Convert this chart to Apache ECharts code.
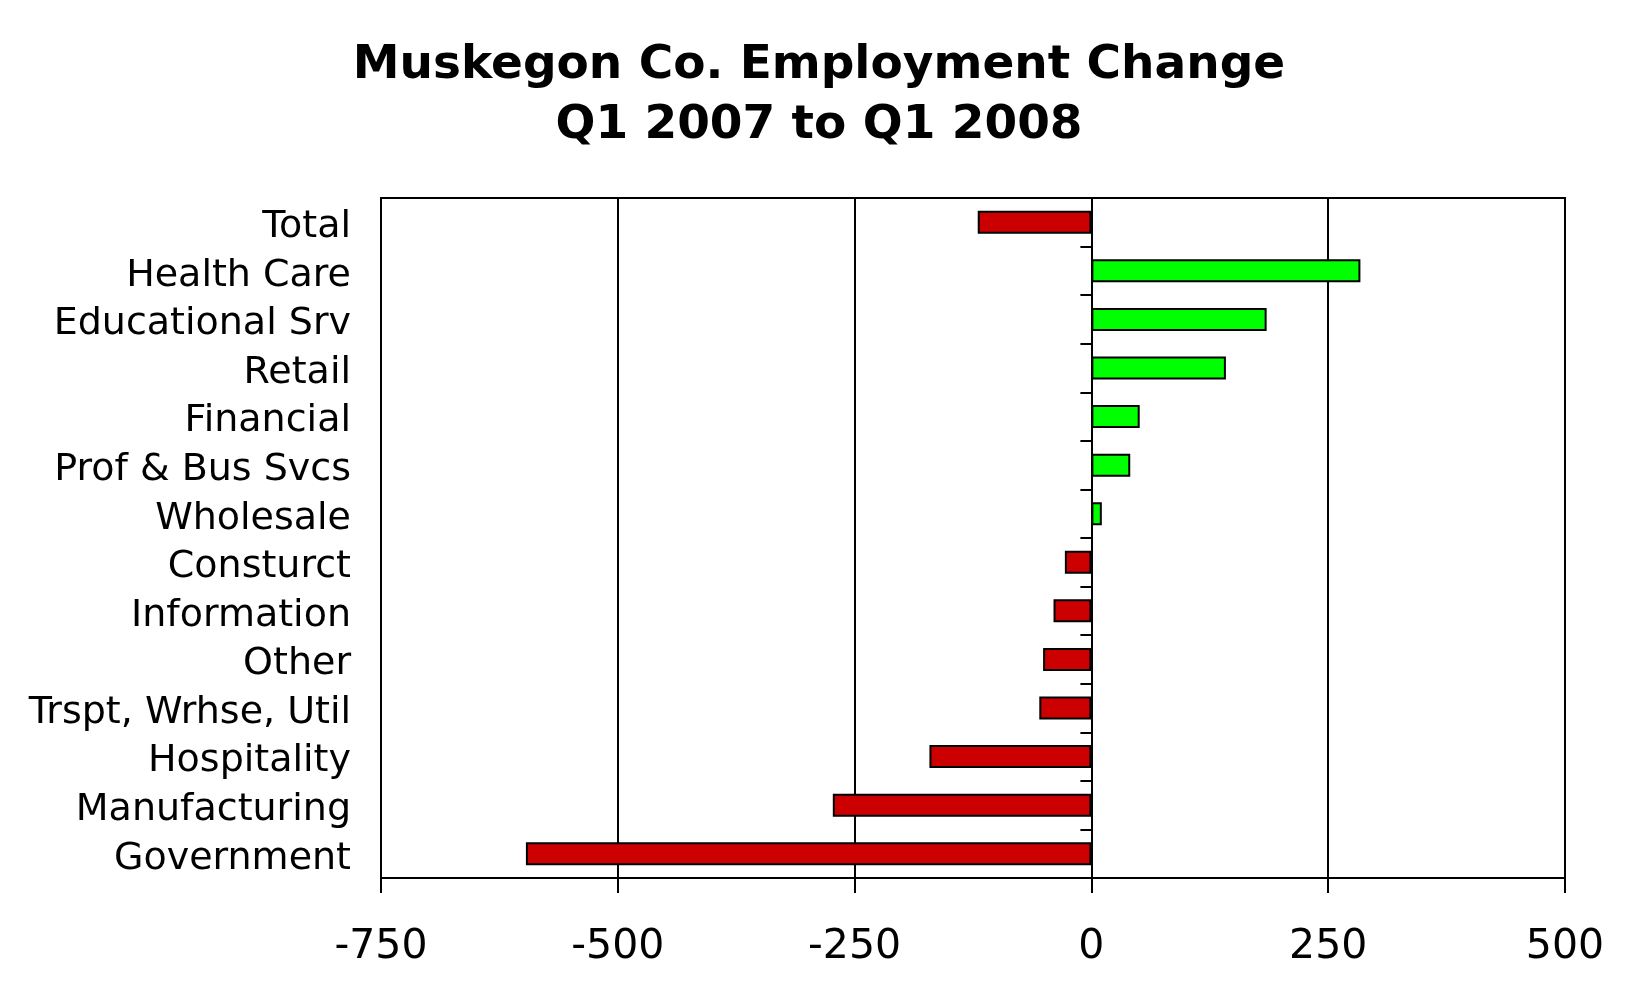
<!DOCTYPE html>
<html>
<head>
<meta charset="utf-8">
<script src="https://cdn.jsdelivr.net/npm/echarts@6/dist/echarts.min.js"></script>
<style>
html,body{margin:0;padding:0;background:#fff;}
#chart{width:1638px;height:992px;}
</style>
</head>
<body>
<div id="chart"></div>
<script>
const categories = ["Total","Health Care","Educational Srv","Retail","Financial","Prof & Bus Svcs","Wholesale","Consturct","Information","Other","Trspt, Wrhse, Util","Hospitality","Manufacturing","Government"];
const values = [-120, 284, 185, 142, 51, 41, 11, -28, -40, -51, -55, -171, -273, -597];
const xTicks = {min: -750, max: 500, interval: 250};
const titleLines = ["Muskegon Co. Employment Change", "Q1 2007 to Q1 2008"];

const FONT = "'DejaVu Sans', Verdana, sans-serif";
const chart = echarts.init(document.getElementById('chart'), null, {renderer: 'canvas'});
chart.setOption({
  animation: false,
  backgroundColor: '#ffffff',
  title: {
    text: titleLines.join('\n'),
    left: 'center',
    top: 31,
    textStyle: {fontFamily: FONT, fontWeight: 'bold', fontSize: 47, color: '#000', lineHeight: 60}
  },
  grid: {left: 381, right: 73, top: 198, bottom: 114, show: true, borderColor: '#000', borderWidth: 2, containLabel: false},
  xAxis: {
    type: 'value',
    min: xTicks.min, max: xTicks.max, interval: xTicks.interval,
    axisLine: {show: true, onZero: false, lineStyle: {color: '#000', width: 2}},
    axisTick: {show: true, inside: false, length: 15, lineStyle: {color: '#000', width: 2}},
    splitLine: {show: true, lineStyle: {color: '#000', width: 2}},
    axisLabel: {fontFamily: FONT, fontSize: 41, color: '#000', margin: 49}
  },
  yAxis: [
    {
      type: 'category', data: categories, inverse: true,
      axisLine: {show: false, onZero: false}, axisTick: {show: false}, splitLine: {show: false},
      axisLabel: {fontFamily: FONT, fontSize: 38, color: '#000', margin: 30, interval: 0, hideOverlap: false,
                  verticalAlign: 'top', lineHeight: 10}
    },
    {
      type: 'category', data: categories, inverse: true, position: 'left',
      axisLine: {show: true, onZero: true, onZeroAxisIndex: 0, lineStyle: {color: '#000', width: 2}},
      axisTick: {show: true, inside: false, length: 11, alignWithLabel: false, lineStyle: {color: '#000', width: 2}},
      axisLabel: {show: false}, splitLine: {show: false}
    }
  ],
  series: [{
    type: 'bar',
    yAxisIndex: 0,
    barWidth: 23,
    data: values.map(v => ({value: v, itemStyle: {color: v < 0 ? '#cc0000' : '#00ff00'}})),
    itemStyle: {borderColor: '#000', borderWidth: 2},
    z: 3
  }]
});
</script>
</body>
</html>
